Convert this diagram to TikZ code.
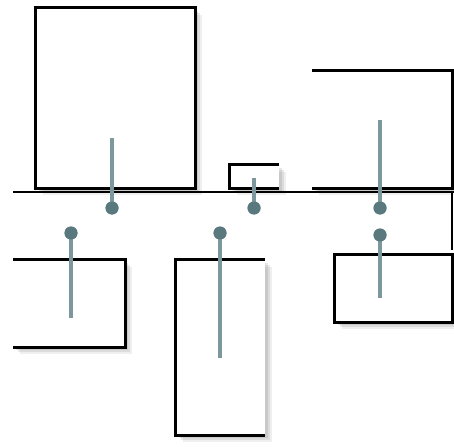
\documentclass[tikz,border=0pt]{standalone}
\usepackage{xcolor}
\usetikzlibrary{shadows}
\definecolor{pinhead}{HTML}{5A797F}
\definecolor{pinstem}{HTML}{7D989D}
\tikzset{
  card/.style  ={rectangle, inner sep=0pt, fill=white,
                 drop shadow={shadow xshift=7pt, shadow yshift=-7pt, opacity=.10, fill=black!60},
                 drop shadow={shadow xshift=5pt, shadow yshift=-5pt, opacity=.14, fill=black!60},
                 drop shadow={shadow xshift=3pt, shadow yshift=-3pt, opacity=.16, fill=black!60}},
  rim/.style   ={draw=black, line width=2.8pt},
  stem/.style  ={draw=pinstem, line width=3.4pt},
  head/.style  ={circle, fill=pinhead, inner sep=0pt, minimum size=13pt},
}

\begin{document}
\begin{tikzpicture}[x=1pt, y=-1pt]
\useasboundingbox (0,0) rectangle (454,446);

% cards above and below the line
\node[card, minimum width=159pt, minimum height=180pt] (c1) at (115.5,98) {};
\node[card, minimum width=49pt,  minimum height=23pt]  (c2) at (254.5,176.5) {};
\node[card, minimum width=140pt, minimum height=117pt] (c3) at (382,129.5) {};
\node[card, minimum width=112pt, minimum height=87pt]  (c4) at (69,303.5) {};
\node[card, minimum width=89pt,  minimum height=175pt] (c5) at (220.5,347.5) {};
\node[card, minimum width=117pt, minimum height=67pt]  (c6) at (393.5,288.5) {};

\draw[rim] (c1.north west) rectangle (c1.south east);
\draw[rim] (c2.north east) -- (c2.north west) -- (c2.south west) -- (c2.south east);
\draw[rim] (c3.north west) -- (c3.north east) -- (c3.south east) -- (c3.south west);
\draw[rim] (c4.north west) -- (c4.north east) -- (c4.south east) -- (c4.south west);
\draw[rim] (c5.north east) -- (c5.north west) -- (c5.south west) -- (c5.south east);
\draw[rim] (c6.north west) rectangle (c6.south east);

% the line
\coordinate (lineW) at (13,192);
\coordinate (lineE) at (454,192);
\coordinate (drop) at (452,250);
\draw[rim] (lineW) -- (lineE);
\draw[rim] (452,192) -- (drop);

% pins
\node[head] (p1) at (112,208) {};
\node[head] (p2) at (254,208) {};
\node[head] (p3) at (380,208) {};
\node[head] (p4) at (71,233) {};
\node[head] (p5) at (220,233) {};
\node[head] (p6) at (380,235) {};
\coordinate (t1) at (112,138);
\coordinate (t2) at (254,178);
\coordinate (t3) at (380,120);
\coordinate (t4) at (71,318);
\coordinate (t5) at (220,358);
\coordinate (t6) at (380,298);
\foreach \i in {1,...,6} \draw[stem] (p\i.center) -- (t\i);
\foreach \i in {1,...,6} \fill[pinhead] (p\i) circle (6.5pt);
\end{tikzpicture}
\end{document}
